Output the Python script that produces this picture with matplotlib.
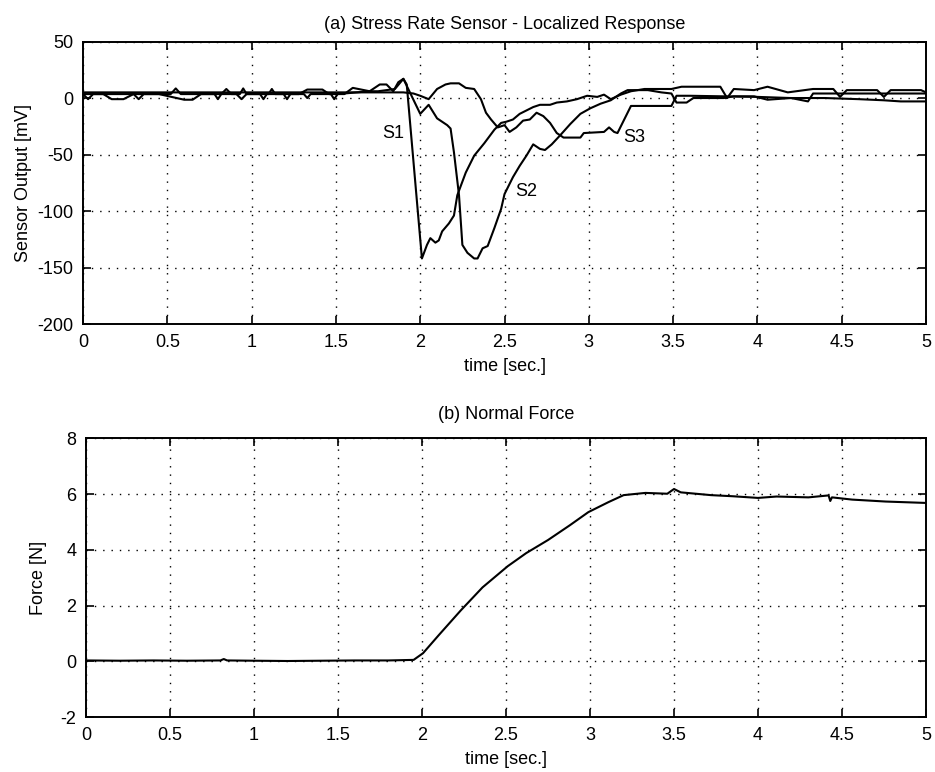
import matplotlib
matplotlib.use("Agg")
import matplotlib.pyplot as plt

plt.rcParams['font.family'] = ['Liberation Sans', 'DejaVu Sans']

# ---- (a) stress rate sensor outputs [mV] vs time [s] ----
s1_t = [0.00, 0.10, 0.20, 0.30, 0.40, 0.52, 0.55, 0.58, 0.70, 0.82, 0.85, 0.88,
        0.93, 0.95, 0.97, 1.10, 1.12, 1.14, 1.28, 1.33, 1.42, 1.46, 1.55, 1.60,
        1.70, 1.76, 1.80, 1.84, 1.87, 1.90, 1.92, 2.01, 2.04, 2.06, 2.09, 2.11,
        2.13, 2.17, 2.20, 2.22, 2.27, 2.32, 2.38, 2.44, 2.48, 2.51, 2.55, 2.59,
        2.63, 2.67, 2.71, 2.77, 2.81, 2.87, 2.93, 2.99, 3.05, 3.09, 3.13, 3.19,
        3.25, 3.33, 3.41, 3.49, 3.55, 3.60, 3.78, 3.82, 3.86, 3.98, 4.06, 4.18,
        4.33, 4.45, 4.49, 4.53, 4.71, 4.75, 4.79, 4.97, 5.00]
s1_v = [3.5, 3.5, 3.5, 3.5, 3.5, 3.5, 8.5, 3.5, 3.5, 3.5, 8.0, 3.5,
        3.5, 8.5, 3.5, 3.5, 8.0, 3.5, 3.5, 7.5, 7.5, 3.5, 3.5, 9.0,
        6.0, 12.0, 12.0, 6.0, 14.0, 17.0, 12.0, -142.0, -130.0, -124.0, -128.0, -126.0,
        -118.0, -111.0, -104.0, -86.0, -66.0, -51.0, -40.0, -28.0, -22.0, -21.0, -19.0, -14.0,
        -11.0, -8.0, -6.0, -6.0, -4.0, -3.0, -1.0, 2.0, 1.0, 3.0, -1.0, 3.0,
        6.0, 8.0, 8.0, 8.0, 10.0, 10.0, 10.0, 0.0, 8.0, 7.0, 10.0, 5.0,
        8.0, 8.0, 1.0, 7.0, 7.0, 1.0, 7.0, 7.0, 5.0]

s2_t = [0.00, 0.03, 0.06, 0.12, 0.17, 0.24, 0.30, 0.33, 0.36, 0.45, 0.60, 0.65,
        0.70, 0.78, 0.80, 0.82, 0.91, 0.94, 0.97, 1.05, 1.07, 1.09, 1.19, 1.21,
        1.23, 1.31, 1.33, 1.35, 1.47, 1.49, 1.51, 1.70, 1.75, 1.85, 1.90, 2.00,
        2.05, 2.10, 2.16, 2.18, 2.20, 2.23, 2.25, 2.28, 2.32, 2.34, 2.37, 2.40,
        2.44, 2.48, 2.50, 2.55, 2.59, 2.63, 2.67, 2.71, 2.74, 2.78, 2.83, 2.89,
        2.95, 3.01, 3.07, 3.13, 3.19, 3.23, 3.35, 3.43, 3.49, 3.52, 3.58, 3.62,
        3.80, 3.86, 3.98, 4.06, 4.20, 4.30, 4.33, 4.36, 4.60, 4.80, 5.00]
s2_v = [3.5, -1.0, 3.5, 3.5, -1.0, -1.0, 3.5, -1.0, 3.5, 3.5, -1.5, -1.5,
        3.5, 3.5, -1.0, 3.5, 3.5, -1.0, 3.5, 3.5, -1.0, 3.5, 3.5, -1.0,
        3.5, 3.5, 0.0, 3.5, 3.5, -1.0, 3.5, 6.0, 6.0, 8.0, 17.0, -14.0,
        -6.0, -18.0, -24.0, -27.0, -48.0, -86.0, -130.0, -137.0, -142.0, -142.0, -133.0, -131.0,
        -115.0, -98.0, -85.0, -70.0, -60.0, -51.0, -41.0, -45.0, -46.0, -41.0, -33.0, -23.0,
        -14.0, -9.0, -5.0, -2.0, 4.0, 7.0, 7.0, 5.0, 4.0, -4.0, -4.0, 0.0,
        0.0, 1.5, 1.5, -1.5, 0.0, -3.0, 4.0, 4.0, 4.0, 4.0, 4.0]

s3_t = [0.00, 1.90, 1.96, 2.00, 2.05, 2.10, 2.15, 2.18, 2.23, 2.27, 2.32, 2.36,
        2.39, 2.42, 2.46, 2.50, 2.53, 2.57, 2.61, 2.65, 2.69, 2.73, 2.77, 2.81,
        2.85, 2.95, 2.97, 3.09, 3.12, 3.15, 3.17, 3.21, 3.25, 3.49, 3.52, 3.60,
        4.00, 4.20, 4.40, 4.60, 4.75, 4.85, 5.00]
s3_v = [5.0, 5.0, 4.0, 2.0, -1.0, 8.0, 12.0, 13.0, 13.0, 9.0, 8.0, -1.0,
        -13.0, -19.0, -26.0, -24.0, -30.0, -26.0, -20.0, -19.0, -13.0, -16.0, -22.0, -31.0,
        -35.0, -35.0, -31.0, -30.0, -26.0, -30.0, -31.0, -19.0, -7.0, -7.0, 2.0, 2.0,
        1.0, 0.0, 0.0, -1.0, -2.0, -3.0, -3.0]

sensor_labels = ['S1', 'S2', 'S3']
label_pos_t = [1.84, 2.63, 3.27]
label_pos_v = [-31, -83, -35]

# ---- (b) normal force [N] vs time [s] ----
f_t = [0.00, 0.20, 0.40, 0.60, 0.80, 0.82, 0.84, 1.00, 1.20, 1.40, 1.60, 1.80,
       1.95, 2.006, 2.10, 2.23, 2.36, 2.51, 2.62, 2.75, 2.88, 2.99, 3.11, 3.20,
       3.33, 3.46, 3.50, 3.54, 3.72, 3.85, 4.00, 4.11, 4.30, 4.42, 4.43, 4.44,
       4.56, 4.76, 5.00]
f_v = [0.03, 0.02, 0.03, 0.02, 0.03, 0.08, 0.03, 0.02, 0.01, 0.02, 0.03, 0.03,
       0.05, 0.29, 0.94, 1.82, 2.65, 3.41, 3.88, 4.35, 4.88, 5.35, 5.71, 5.96,
       6.04, 6.01, 6.18, 6.06, 5.96, 5.92, 5.86, 5.91, 5.88, 5.95, 5.75, 5.88,
       5.80, 5.73, 5.68]

x_ticks = [0, 0.5, 1, 1.5, 2, 2.5, 3, 3.5, 4, 4.5, 5]
x_ticklabels = ['0', '0.5', '1', '1.5', '2', '2.5', '3', '3.5', '4', '4.5', '5']
ya_ticks = [-200, -150, -100, -50, 0, 50]
yb_ticks = [-2, 0, 2, 4, 6, 8]

FS = 13
fig = plt.figure(figsize=(9.35, 7.72), dpi=100)
ax1 = fig.add_axes([0.0888, 0.5803, 0.9016, 0.3659])
ax2 = fig.add_axes([0.0920, 0.0712, 0.8984, 0.3611])


def style(ax, yticks):
    ax.set_xlim(0, 5)
    ax.set_ylim(yticks[0], yticks[-1])
    ax.set_xticks(x_ticks)
    ax.set_xticklabels(x_ticklabels)
    ax.set_yticks(yticks)
    ax.set_yticklabels([str(v) for v in yticks])
    ax.grid(True, color='black', linestyle=(0, (1, 5)), linewidth=1.0)
    ax.tick_params(direction='in', top=True, right=True, length=6,
                   width=1.2, labelsize=FS, pad=7, colors='black')
    for sp in ax.spines.values():
        sp.set_linewidth(1.4)
        sp.set_color('black')


for t, v in ((s1_t, s1_v), (s2_t, s2_v), (s3_t, s3_v)):
    ax1.plot(t, v, color='black', linewidth=1.5)
for lab, lt, lv in zip(sensor_labels, label_pos_t, label_pos_v):
    ax1.text(lt, lv, lab, fontsize=FS, ha='center', va='center')
style(ax1, ya_ticks)
ax1.set_title('(a) Stress Rate Sensor - Localized Response', fontsize=FS, pad=9)
ax1.set_xlabel('time [sec.]', fontsize=FS, labelpad=5)
ax1.set_ylabel('Sensor Output [mV]', fontsize=FS, labelpad=4)

ax2.plot(f_t, f_v, color='black', linewidth=1.5)
style(ax2, yb_ticks)
ax2.set_title('(b) Normal Force', fontsize=FS, pad=14)
ax2.set_xlabel('time [sec.]', fontsize=FS, labelpad=5)
ax2.set_ylabel('Force [N]', fontsize=FS, labelpad=10)

fig.savefig('out.png', dpi=100)
